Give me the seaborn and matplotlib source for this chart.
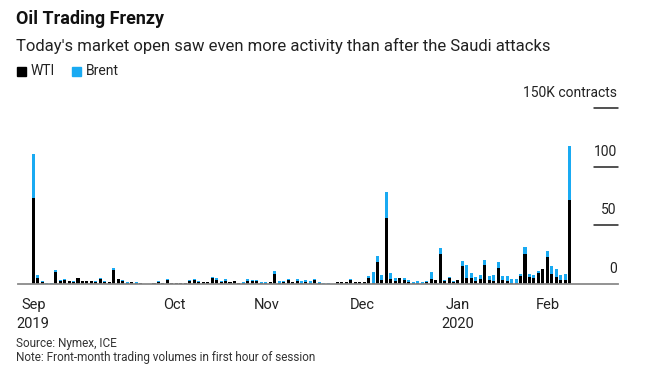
import matplotlib
matplotlib.use("Agg")
import matplotlib.pyplot as plt
import matplotlib.transforms as mtransforms
from matplotlib import font_manager
from matplotlib.patches import Rectangle
import seaborn as sns
import pandas as pd

# Front-month volumes in the first hour of the session, thousand contracts
wti = [73, 5.1, 1.7, 0, 0, 10, 2.6, 3.4, 2.3, 2, 4.8, 2.3, 2.3, 2.3, 2, 4, 2, 1.7, 11.7, 4,
       2.3, 1.1, 1.4, 1.1, 0.6, 0.3, 0.3, 1.1, 1.4, 1.1, 3.7, 1.1, 1.1, 0.6, 1.1, 2.8, 3.1, 2,
       1.4, 1.4, 5.4, 3.7, 1.4, 2.8, 1.4, 2.8, 0.6, 1.2, 2.8, 2.6, 2.8, 1.1, 1.1, 1.7, 8.8,
       1.1, 1.4, 3.4, 1.4, 2.8, 1.1, 1.7, 1.1, 3.7, 1.1, 0.3, 0.3, 0.3, 1.4, 1.7, 1.4, 3.4,
       1.4, 1.4, 1.4, 4.8, 1, 18.8, 3.7, 56, 4.6, 2.8, 5.1, 3.7, 1.7, 0.9, 1.1, 0, 1.4, 4.6,
       3.4, 25.4, 2.6, 5.1, 1.7, 3.4, 15.1, 4.8, 5.1, 2.6, 4, 16.2, 3.1, 2.6, 13.4, 3.1, 2.8,
       0.9, 0.6, 6.6, 25.4, 5.7, 5.1, 9.1, 12.5, 23.1, 8.5, 5.7, 3.1, 3.1, 71.5]
total = [111, 7.7, 2.3, 0.6, 0.6, 11.7, 3.4, 4, 2.3, 2.6, 4.8, 2.6, 2.3, 2.3, 2.6, 4.8, 2.6, 1.7,
         13.4, 4, 3.1, 1.7, 2, 1.7, 1.1, 0.3, 0.3, 1.1, 2.8, 1.1, 4.3, 1.1, 1.1, 0.6, 1.1, 3.4,
         4.3, 2.8, 2, 2, 6.3, 5.1, 2.8, 4.6, 1.7, 2.8, 1.1, 1.9, 4.3, 3.4, 3.4, 1.7, 1.7, 1.7,
         11.4, 2.6, 2.6, 4, 1.4, 4.3, 2.8, 3.4, 2.8, 4.3, 1.7, 0.9, 0.9, 0.3, 1.7, 1.7, 1.4,
         4.3, 1.4, 1.4, 2, 6.8, 10, 23.6, 7.4, 78.7, 9.1, 4.8, 5.4, 4.8, 3.1, 1.4, 2.3, 1.4,
         2.3, 10, 3.4, 30.8, 3.7, 5.7, 2.6, 3.4, 19.7, 16.2, 9.4, 6, 7.4, 20.2, 6.6, 7.4, 18.5,
         6.6, 6.6, 4, 4, 8.3, 31.3, 8.3, 7.4, 10.8, 12.5, 27.9, 15.1, 12.5, 8, 8.5, 118]
brent = [round(t - w, 1) for t, w in zip(total, wti)]

month_pos = [0, 31.5, 52.3, 73.7, 94.9, 115.0]
month_labels = ["Sep\n2019", "Oct", "Nov", "Dec", "Jan\n2020", "Feb"]
y_ticks = [0, 50, 100]

WTI_COLOR = "#000000"
BRENT_COLOR = "#19aaf2"
AXIS_GRAY = "#8a8a8a"

sns.set_style("white")
names = {f.name for f in font_manager.fontManager.ttflist}
family = "Liberation Sans Narrow" if "Liberation Sans Narrow" in names else "Roboto"
plt.rcParams["font.family"] = [family, "DejaVu Sans"]

df = pd.DataFrame({"day": range(len(wti)), "wti": wti,
                   "total": [w + b for w, b in zip(wti, brent)]})

W, H = 647, 383
fig = plt.figure(figsize=(W / 100, H / 100), dpi=100)
ax = fig.add_axes([18 / W, 1 - 284 / H, 600 / W, (284 - 108.3) / H])

# stacked: total in blue first, WTI drawn over it in black
sns.barplot(data=df, x="day", y="total", color=BRENT_COLOR, width=0.68,
            saturation=1, ax=ax, linewidth=0)
sns.barplot(data=df, x="day", y="wti", color=WTI_COLOR, width=0.68,
            saturation=1, ax=ax, linewidth=0)

ax.set_xlim(-3.42, 130.8)
ax.set_ylim(0, 150)
ax.set_xlabel("")
ax.set_ylabel("")
ax.set_yticks([])
ax.set_xticks(month_pos)
ax.set_xticklabels(month_labels, fontsize=10.5, color="#222222", linespacing=1.5, va="top")
ax.tick_params(axis="x", length=5, width=1, color=AXIS_GRAY, pad=5)
for s in ["top", "left", "right"]:
    ax.spines[s].set_visible(False)
ax.spines["bottom"].set_color(AXIS_GRAY)
ax.spines["bottom"].set_linewidth(1.3)

# right-hand value labels with short rules under them
trans = mtransforms.blended_transform_factory(ax.transAxes, ax.transData)
for v in y_ticks + [150]:
    if v > 0:
        ax.plot([0.96, 1.0], [v, v], color="#222222", lw=1.1, transform=trans, clip_on=False)
    label = "150K contracts" if v == 150 else str(v)
    ax.text(0.998, v + 7, label, transform=trans, ha="right", va="bottom",
            fontsize=10, color="#222222")

fig.text(16 / W, 1 - 19 / H, "Oil Trading Frenzy", fontsize=13, fontweight="bold",
         va="center", ha="left", color="#111111")
fig.text(16 / W, 1 - 46 / H,
         "Today's market open saw even more activity than after the Saudi attacks",
         fontsize=12, va="center", ha="left", color="#222222")

# legend
fig.patches.append(Rectangle((17 / W, 1 - 75.5 / H), 8.5 / W, 8.5 / H, color=WTI_COLOR,
                             transform=fig.transFigure, figure=fig))
fig.text(31 / W, 1 - 71 / H, "WTI", fontsize=10, va="center", ha="left", color="#222222")
fig.patches.append(Rectangle((72 / W, 1 - 75.5 / H), 8.5 / W, 8.5 / H, color=BRENT_COLOR,
                             transform=fig.transFigure, figure=fig))
fig.text(86 / W, 1 - 71 / H, "Brent", fontsize=10, va="center", ha="left", color="#222222")

fig.text(16 / W, 1 - 343 / H, "Source: Nymex, ICE", fontsize=8.5, va="center",
         ha="left", color="#333333")
fig.text(16 / W, 1 - 358 / H, "Note: Front-month trading volumes in first hour of session",
         fontsize=8.5, va="center", ha="left", color="#333333")

fig.savefig("out.png", dpi=100)
